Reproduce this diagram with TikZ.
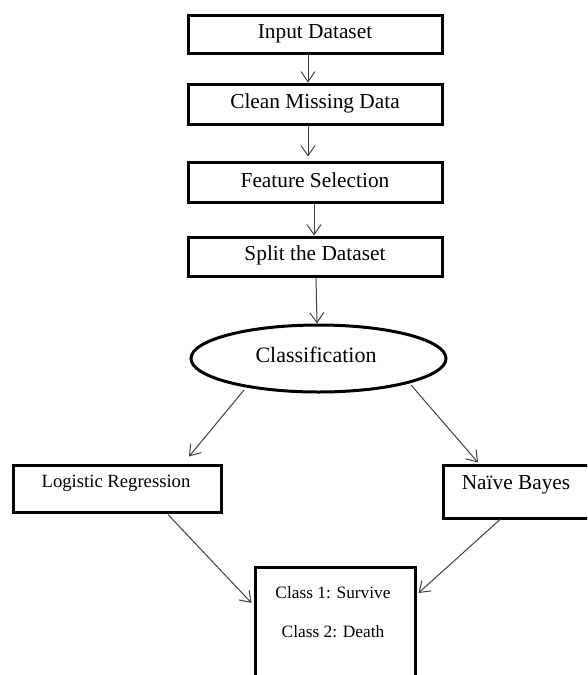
\documentclass[tikz,border=0pt]{standalone}
\usepackage{fontspec}
\setmainfont{Liberation Serif}
\usetikzlibrary{shapes.geometric,arrows.meta,calc}
\begin{document}
\begin{tikzpicture}[x=0.75pt,y=-0.75pt,
  box/.style={draw=black,line width=2.25pt,rectangle,inner sep=0pt},
  ovalbox/.style={draw=black,line width=2.25pt,ellipse,inner sep=0pt,minimum width=191.25pt,minimum height=50.25pt},
  lbl/.style={inner sep=0pt,font=\fontsize{16}{19}\selectfont},
  arr/.style={draw=black!75,line width=0.75pt,-{Straight Barb[length=7.5pt,width=10.5pt]}}]
\useasboundingbox (0,0) rectangle (587,675);
\clip (0,0) rectangle (587,675);
\fill[white] (0,0) rectangle (587,675);
% boxes
\node[box,minimum width=190.5pt,minimum height=28.5pt] (in) at (315,34) {};
\node[lbl] (inT) at (315,34) {Input Dataset};
\node[box,minimum width=190.5pt,minimum height=30pt] (clean) at (315,104) {};
\node[lbl] (cleanT) at (315,103) {Clean Missing Data};
\node[box,minimum width=190.5pt,minimum height=30pt] (feat) at (315,182) {};
\node[lbl] (featT) at (315,180) {Feature Selection};
\node[box,minimum width=190.5pt,minimum height=29.25pt] (split) at (315,256.5) {};
\node[lbl] (splitT) at (315,255) {Split the Dataset};
\node[ovalbox] (clf) at (318.5,358.5) {};
\node[lbl,font=\fontsize{16.5}{19}\selectfont] (clfT) at (316,355) {Classification};
\node[box,minimum width=156pt,minimum height=35.25pt] (lr) at (117,488.5) {};
\node[lbl,font=\fontsize{14}{17}\selectfont] (lrT) at (116,483) {Logistic Regression};
\node[box,minimum width=117.75pt,minimum height=39.75pt] (nb) at (521.5,491.5) {};
\node[lbl] (nbT) at (516,485) {Naïve Bayes};
\node[box,minimum width=120pt,minimum height=99.75pt] (cls) at (335,633.5) {};
\node[lbl,font=\fontsize{13}{16}\selectfont] (c1) at (333,593) {Class 1: Survive};
\node[lbl,font=\fontsize{13}{16}\selectfont] (c2) at (333,632) {Class 2: Death};
% connectors
\draw[arr] ($(in.south)+(-7,0)$) -- ($(clean.north)+(-7,0)$);
\draw[arr] ($(clean.south)+(-7,0)$) -- ($(feat.north)+(-7,-4)$);
\draw[arr] ($(feat.south)+(-1,0)$) -- ($(split.north)+(-1,0)$);
\draw[arr] ($(split.south)+(1,0)$) -- ($(clf.north)+(-1.5,0)$);
\draw[arr] ($(clf.center)+(-74.5,31.5)$) -- ($(lr.north)+(72,-7)$);
\draw[arr] ($(clf.center)+(92.5,26.5)$) -- ($(nb.north)+(-43.5,-1)$);
\draw[arr] ($(lr.south)+(51,1)$) -- ($(cls.west)+(-2,-30.5)$);
\draw[arr] ($(nb.south)+(-21.5,0)$) -- ($(cls.east)+(2,-40.5)$);
\end{tikzpicture}
\end{document}
